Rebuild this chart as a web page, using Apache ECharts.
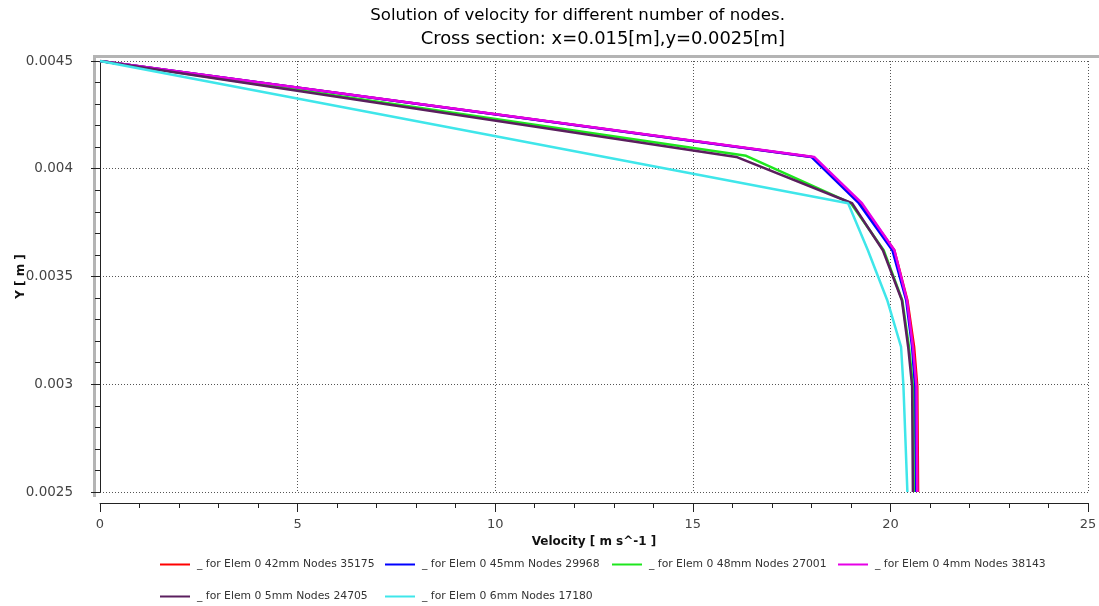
<!DOCTYPE html>
<html>
<head>
<meta charset="utf-8">
<script src="https://cdn.jsdelivr.net/npm/echarts@6/dist/echarts.min.js"></script>
<style>
  html, body { margin: 0; padding: 0; background: #fff; }
  #chart { width: 1099px; height: 606px; }
</style>
</head>
<body>
<div id="chart"></div>
<script>
// Velocity profiles across the section for each mesh refinement
const seriesNames = [
  '_ for Elem 0 42mm Nodes 35175',
  '_ for Elem 0 45mm Nodes 29968',
  '_ for Elem 0 48mm Nodes 27001',
  '_ for Elem 0 4mm Nodes 38143',
  '_ for Elem 0 5mm Nodes 24705',
  '_ for Elem 0 6mm Nodes 17180'
];
const seriesColors = ['#ff0000', '#0000ff', '#1ee61e', '#e600e6', '#5b1f5e', '#3fe6ea'];

// Y positions [m] of the sampled nodes
const yNodes     = [0.0045, 0.004055, 0.00384, 0.003622, 0.00339, 0.003173, 0.00299, 0.0025];
const yNodes48   = [0.0045, 0.00406, 0.00384, 0.003622, 0.00339, 0.003173, 0.00299, 0.0025];
const yNodes6    = [0.0045, 0.00384, 0.003622, 0.00339, 0.003173, 0.00299, 0.0025];

// Velocity [m/s] at those nodes
const vel42 = [0, 18.02, 19.25, 20.10, 20.43, 20.60, 20.68, 20.70];
const vel45 = [0, 18.00, 19.20, 20.05, 20.40, 20.55, 20.62, 20.64];
const vel48 = [0, 16.35, 19.00, 19.83, 20.30, 20.47, 20.57, 20.59];
const vel4  = [0, 18.07, 19.28, 20.10, 20.42, 20.57, 20.66, 20.68];
const vel5  = [0, 16.10, 19.03, 19.81, 20.29, 20.45, 20.55, 20.57];
const vel6  = [0, 18.93, 19.43, 19.92, 20.27, 20.33, 20.43];

const xTicks = { min: 0, max: 25, interval: 5 };
const yTicks = { min: 0.0025, max: 0.0045, interval: 0.0005 };

const titleLines = [
  'Solution of velocity for different number of nodes.',
  'Cross section: x=0.015[m],y=0.0025[m]'
];

const profiles = [
  [vel42, yNodes],
  [vel45, yNodes],
  [vel48, yNodes48],
  [vel4,  yNodes],
  [vel5,  yNodes],
  [vel6,  yNodes6]
];

const FONT = 'DejaVu Sans';

const series = profiles.map(([v, y], i) => ({
  name: seriesNames[i],
  type: 'line',
  data: v.map((val, k) => [val, y[k]]),
  showSymbol: false,
  symbol: 'none',
  lineStyle: { color: seriesColors[i], width: 2.5 },
  itemStyle: { color: seriesColors[i] },
  animation: false
}));

// legend laid out as a 4-column table
const legendCols = [160, 385, 612, 838];
const legendRows = [559, 591];
const legends = seriesNames.map((name, i) => ({
  data: [name],
  left: legendCols[i % 4],
  top: legendRows[Math.floor(i / 4)],
  icon: 'rect',
  itemWidth: 30,
  itemHeight: 2,
  itemGap: 0,
  padding: 0,
  textStyle: { fontFamily: FONT, fontSize: 10.8, color: '#333', padding: [0, 0, 0, 2] }
}));

const chart = echarts.init(document.getElementById('chart'));
chart.setOption({
  backgroundColor: '#fff',
  animation: false,
  title: [
    {
      text: titleLines[0],
      left: 785, top: 7, textAlign: 'right', padding: 0,
      textStyle: { fontFamily: FONT, fontSize: 16.6, fontWeight: 'normal', color: '#000' }
    },
    {
      text: titleLines[1],
      left: 785, top: 30, textAlign: 'right', padding: 0,
      textStyle: { fontFamily: FONT, fontSize: 17.9, fontWeight: 'normal', color: '#000' }
    }
  ],
  legend: legends,
  grid: { left: 100, right: 11, top: 61, bottom: 114, show: false, containLabel: false, outerBoundsMode: 'none' },
  xAxis: {
    type: 'value',
    min: xTicks.min, max: xTicks.max, interval: xTicks.interval,
    offset: 11,
    name: 'Velocity [ m s^-1 ]',
    nameLocation: 'middle',
    nameGap: 33,
    nameMoveOverlap: false,
    nameTextStyle: { fontFamily: FONT, fontSize: 12, fontWeight: 'bold', color: '#111' },
    axisLine: { show: true, lineStyle: { color: '#222', width: 1 } },
    axisTick: { show: true, length: 9, lineStyle: { color: '#222' } },
    minorTick: { show: true, splitNumber: 5, length: 5, lineStyle: { color: '#222' } },
    axisLabel: { fontFamily: FONT, fontSize: 13, color: '#444', margin: 15 },
    splitLine: { show: true, lineStyle: { color: '#555', type: [1, 2], width: 1 } }
  },
  yAxis: {
    type: 'value',
    min: yTicks.min, max: yTicks.max, interval: yTicks.interval,
    offset: 10,
    name: 'Y [ m ]',
    nameLocation: 'middle',
    nameGap: 63,
    nameRotate: 90,
    nameMoveOverlap: false,
    nameTextStyle: { fontFamily: FONT, fontSize: 12, fontWeight: 'bold', color: '#111' },
    axisLine: { show: true, lineStyle: { color: '#222', width: 1 } },
    axisTick: { show: true, length: 9, lineStyle: { color: '#222' } },
    minorTick: { show: true, splitNumber: 5, length: 5, lineStyle: { color: '#222' } },
    axisLabel: {
      fontFamily: FONT, fontSize: 13.5, color: '#444', margin: 17,
      formatter: v => String(parseFloat(v.toFixed(6)))
    },
    splitLine: { show: true, lineStyle: { color: '#555', type: [1, 2], width: 1 } }
  },
  graphic: [{
    type: 'polyline',
    silent: true,
    z: 0,
    shape: { points: [[94.5, 497], [94.5, 56.5], [1099, 56.5]] },
    style: { stroke: '#b4b4b4', lineWidth: 3, fill: null }
  }],
  series: series
});
</script>
</body>
</html>
